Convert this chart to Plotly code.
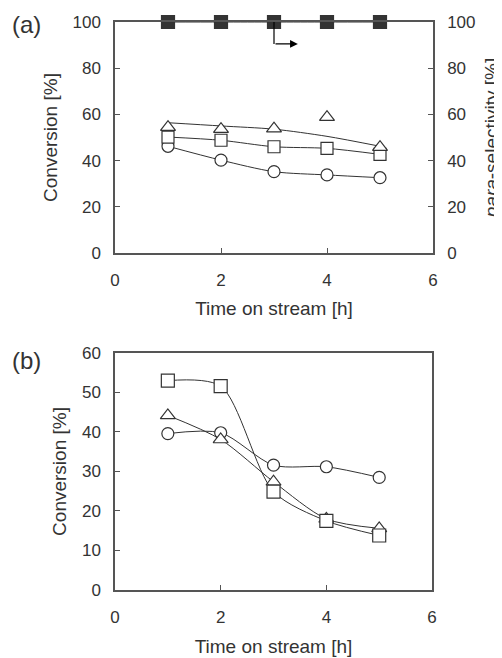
import plotly.graph_objects as go

# ---------------- data ----------------
hours = [1, 2, 3, 4, 5]
x_ticks = [0, 2, 4, 6]

# panel (a): conversion [%]
a_circle = [46.2, 40.2, 35.2, 33.8, 32.6]
a_square = [50.2, 48.8, 46.0, 45.3, 42.7]
a_triangle = [54.5, 53.6, 53.8, 58.8, 45.8]
a_triangle_trend = [56.4, 55.0, 53.6, 50.5, 46.2]
# panel (a): para-selectivity [%] (right axis)
a_para_sel = [100, 100, 100, 100, 100]

# panel (b): conversion [%]
b_circle = [39.6, 39.8, 31.6, 31.2, 28.5]
b_square = [53.0, 51.6, 24.9, 17.5, 13.8]
b_triangle = [44.2, 38.1, 27.4, 18.0, 15.6]

# ---------------- style ----------------
FONT = "Liberation Sans, Arial, sans-serif"
TXT = "#333333"
AX = "#555555"
LN = "#333333"

fig = go.Figure()

def add_series(x, y, xa, ya, symbol, filled=False, size=12, line=True, mode=None):
    fig.add_trace(go.Scatter(
        x=x, y=y, xaxis=xa, yaxis=ya,
        mode=mode or ("lines+markers" if line else "markers"),
        line=dict(color=LN, width=1, shape="spline", smoothing=0.8),
        marker=dict(symbol=symbol, size=size,
                    color=LN if filled else "white",
                    line=dict(color=LN, width=1.2)),
        cliponaxis=False, showlegend=False))

# panel (a)
add_series(hours, a_triangle_trend, "x", "y", "triangle-up", mode="lines")
add_series(hours, a_circle, "x", "y", "circle")
add_series(hours, a_square, "x", "y", "square")
add_series(hours, a_triangle, "x", "y", "triangle-up", line=False, size=13)
add_series(hours, a_para_sel, "x", "y2", "square", filled=True, size=13)

# panel (b)
add_series(hours, b_circle, "x3", "y3", "circle")
add_series(hours, b_triangle, "x3", "y3", "triangle-up", size=13)
add_series(hours, b_square, "x3", "y3", "square", size=13)

tickfont = dict(family=FONT, size=17, color=TXT)
titlefont = dict(family=FONT, size=19, color=TXT)

common_x = dict(range=[0, 6], tickvals=x_ticks, ticks="inside", ticklen=5,
                tickcolor=AX, showline=True, linecolor=AX, linewidth=1.5,
                showgrid=False, zeroline=False, tickfont=tickfont,
                ticklabelstandoff=11, automargin=False)
common_y = dict(ticks="inside", ticklen=5, tickcolor=AX, showline=True,
                linecolor=AX, linewidth=1.5, showgrid=False, zeroline=False,
                tickfont=tickfont, ticklabelstandoff=9, automargin=False)

# the page body adds an 8px offset; size/margins compensate for it
fig.update_layout(
    template="none",
    width=494, height=650,
    margin=dict(l=107, r=69, t=14, b=68),
    paper_bgcolor="white", plot_bgcolor="white",
    font=dict(family=FONT, color=TXT),
    xaxis=dict(**common_x, domain=[0, 1], anchor="y", mirror=True,
               title=dict(text="Time on stream [h]", font=titlefont, standoff=13)),
    yaxis=dict(**common_y, domain=[0.5933, 1], anchor="x", range=[0, 100],
               tickvals=[0, 20, 40, 60, 80, 100],
               title=dict(text="Conversion [%]", font=titlefont, standoff=10)),
    yaxis2=dict(**common_y, overlaying="y", side="right", anchor="x",
                range=[0, 100], tickvals=[0, 20, 40, 60, 80, 100],
                title=dict(text="<i>para</i>-selectivity [%]", font=titlefont,
                           standoff=10)),
    xaxis3=dict(**common_x, domain=[0, 0.997], anchor="y3", mirror=True,
                title=dict(text="Time on stream [h]", font=titlefont, standoff=14)),
    yaxis3=dict(**common_y, domain=[0, 0.4173], anchor="x3", range=[0, 60],
                tickvals=[0, 10, 20, 30, 40, 50, 60], mirror=True,
                title=dict(text="Conversion [%]", font=titlefont, standoff=10)),
)

# arrow pointing from the filled squares to the right axis
fig.add_shape(type="line", xref="x", yref="y2", x0=3, y0=100, x1=3, y1=90.5,
              line=dict(color="black", width=1.2))
fig.add_annotation(xref="x", yref="y2", x=3.45, y=90.5, ax=3, ay=90.5,
                   axref="x", ayref="y2", text="", showarrow=True,
                   arrowhead=2, arrowsize=1.3, arrowwidth=1.2, arrowcolor="black")

# panel labels
fig.add_annotation(xref="paper", yref="paper", x=-0.277, y=0.995, xanchor="center",
                   yanchor="middle", text="(a)", showarrow=False,
                   font=dict(family=FONT, size=24, color=TXT))
fig.add_annotation(xref="paper", yref="paper", x=-0.277, y=0.404, xanchor="center",
                   yanchor="middle", text="(b)", showarrow=False,
                   font=dict(family=FONT, size=24, color=TXT))

fig.write_html("out.html")
